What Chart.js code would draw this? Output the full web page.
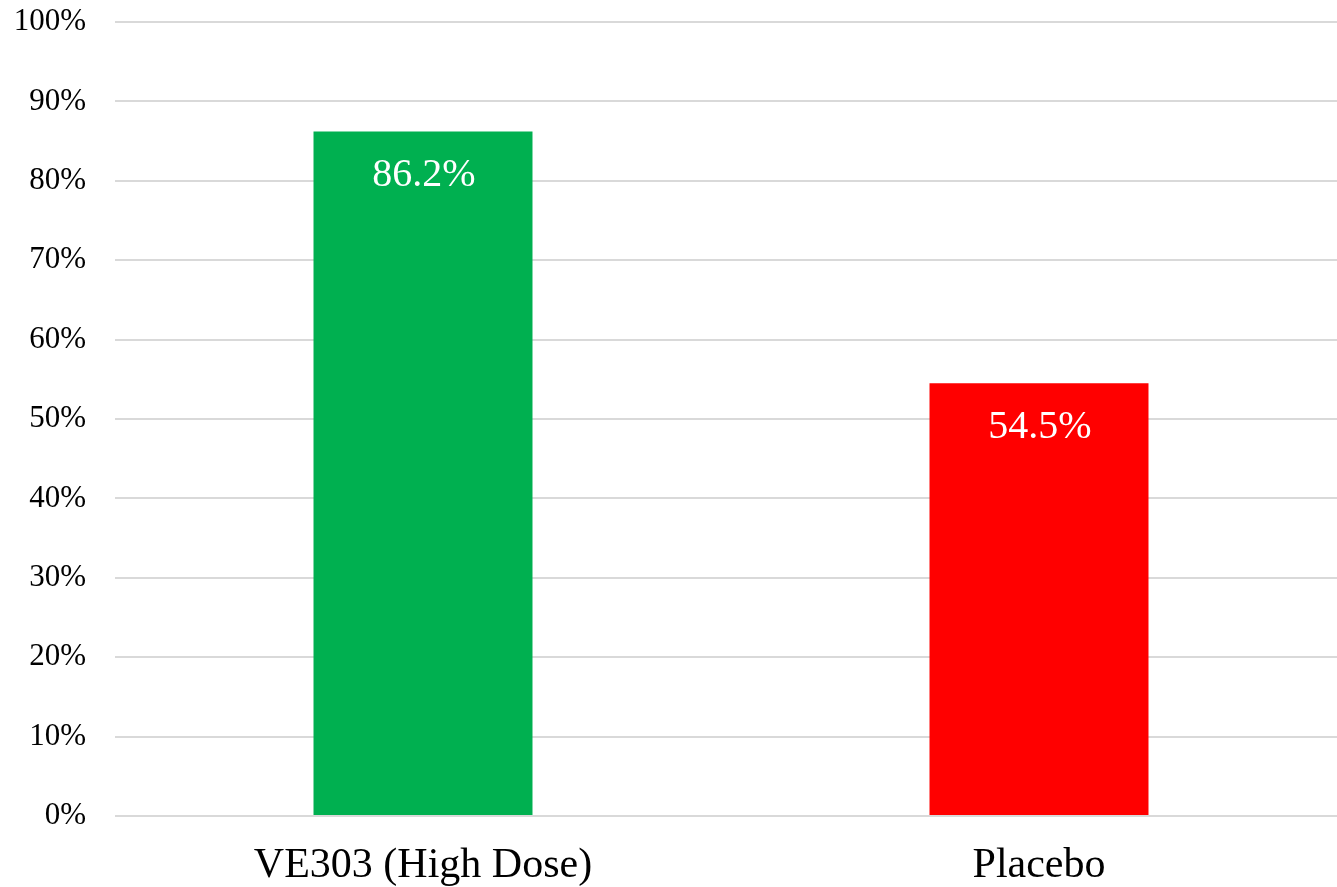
<!DOCTYPE html>
<html>
<head>
<meta charset="utf-8">
<script src="https://cdn.jsdelivr.net/npm/chart.js@4/dist/chart.umd.min.js"></script>
<style>
  html, body { margin: 0; padding: 0; background: #fff; overflow: hidden; }
  #wrap { width: 1347px; height: 887px; }
</style>
</head>
<body>
<div id="wrap"><canvas id="c" width="1347" height="887"></canvas></div>
<script>
// Response rates by study arm
const categories = ['VE303 (High Dose)', 'Placebo'];
const responseRates = [86.2, 54.5];
const barColors = ['#00B050', '#FF0000'];
const yTicks = [0, 10, 20, 30, 40, 50, 60, 70, 80, 90, 100];

const serif = '"Liberation Serif", "Times New Roman", serif';

// Writes each bar's value inside its top end
const valueLabels = {
  id: 'valueLabels',
  afterDatasetsDraw(chart) {
    const ctx = chart.ctx;
    const meta = chart.getDatasetMeta(0);
    ctx.save();
    ctx.fillStyle = '#ffffff';
    ctx.font = '40px ' + serif;
    ctx.textAlign = 'center';
    ctx.textBaseline = 'middle';
    meta.data.forEach((bar, i) => {
      const v = chart.data.datasets[0].data[i];
      ctx.fillText(v.toFixed(1) + '%', bar.x + 1, bar.y + 44);
    });
    ctx.restore();
  }
};

new Chart(document.getElementById('c'), {
  type: 'bar',
  data: {
    labels: categories,
    datasets: [{
      data: responseRates,
      backgroundColor: barColors,
      borderWidth: 0,
      categoryPercentage: 1,
      barPercentage: 0.3555
    }]
  },
  options: {
    responsive: false,
    animation: false,
    layout: { padding: { top: 22, right: 0, bottom: 0, left: 0 } },
    plugins: { legend: { display: false }, tooltip: { enabled: false } },
    scales: {
      x: {
        grid: { display: false, drawTicks: false },
        border: { display: false },
        ticks: { color: '#000', font: { family: serif, size: 42 }, padding: 25 },
        afterFit(scale) {
          scale.height = 71;
          scale.paddingLeft = 0;
          scale.paddingRight = 0;
        }
      },
      y: {
        min: 0,
        max: 100,
        afterBuildTicks(scale) { scale.ticks = yTicks.map(v => ({ value: v })); },
        grid: { color: '#d9d9d9', lineWidth: 2, drawTicks: false },
        border: { display: false },
        ticks: {
          color: '#000',
          font: { family: serif, size: 31 },
          padding: 29,
          callback: v => v + '%'
        },
        afterFit(scale) {
          scale.width = 115;
          scale.paddingTop = 0;
          scale.paddingBottom = 0;
        }
      }
    }
  },
  plugins: [valueLabels]
});
</script>
</body>
</html>
